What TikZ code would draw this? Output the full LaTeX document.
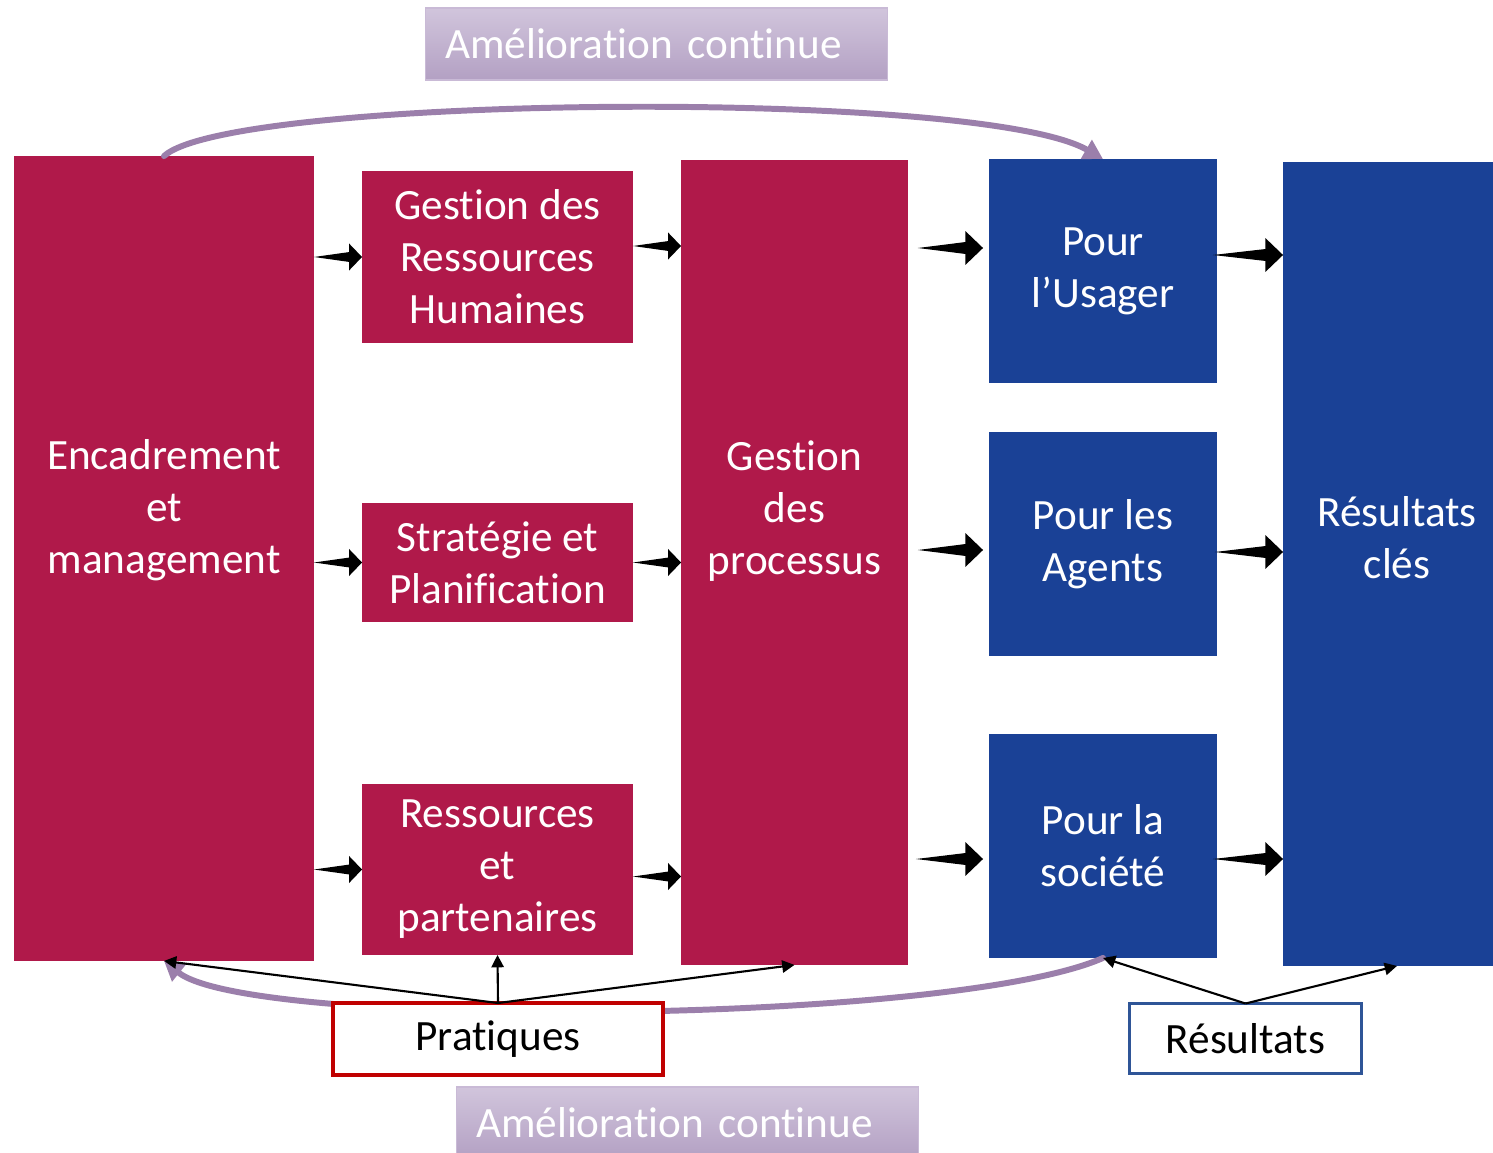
\documentclass[tikz,border=0pt]{standalone}
\usepackage{fontspec}
\setmainfont{Carlito}[Ligatures={NoCommon,NoRequired}, Contextuals=NoAlternate]
\usetikzlibrary{calc,arrows.meta}
\definecolor{crim}{HTML}{B0194A}
\definecolor{navy}{HTML}{1A4196}
\definecolor{arccol}{HTML}{9B7FAB}
\definecolor{bantop}{HTML}{D1C5DC}
\definecolor{banbot}{HTML}{B3A0C3}
\definecolor{banline}{HTML}{C9BAD6}
\definecolor{pred}{HTML}{C00000}
\definecolor{pblue}{HTML}{2F5597}
\begin{document}
\begin{tikzpicture}[x=0.02cm,y=-0.02cm,
  box/.style={rectangle, inner sep=0pt, outer sep=0pt},
  redbox/.style={box, fill=crim},
  bluebox/.style={box, fill=navy},
  lbl/.style={text=white, align=center, font=\fontsize{24.6}{29.6}\selectfont},
  banner/.style={box, minimum width=9.26cm, minimum height=1.44cm, inner xsep=0.4cm,
    text width=8.46cm, align=left, top color=bantop, bottom color=banbot,
    draw=banline, line width=0.6pt, text=white, font=\fontsize{24.6}{29.6}\selectfont},
  arcline/.style={draw=arccol, line width=3.4pt, line cap=round,
    -{Triangle[length=11pt,width=12pt]}},
  thinarrow/.style={line width=1.2pt, -{Triangle[length=7pt,width=7pt]}},
  fatS/.style={to path={
    -- ($(\tikztotarget)!7.4pt!(\tikztostart)!2.8pt!90:(\tikztotarget)$)
    -- ($(\tikztotarget)!7.4pt!(\tikztostart)!7.7pt!90:(\tikztotarget)$)
    -- (\tikztotarget)
    -- ($(\tikztotarget)!7.4pt!(\tikztostart)!7.7pt!-90:(\tikztotarget)$)
    -- ($(\tikztotarget)!7.4pt!(\tikztostart)!2.8pt!-90:(\tikztotarget)$)
    -- cycle}},
  fatL/.style={to path={
    -- ($(\tikztotarget)!10pt!(\tikztostart)!3.4pt!90:(\tikztotarget)$)
    -- ($(\tikztotarget)!10pt!(\tikztostart)!9.6pt!90:(\tikztotarget)$)
    -- (\tikztotarget)
    -- ($(\tikztotarget)!10pt!(\tikztostart)!9.6pt!-90:(\tikztotarget)$)
    -- ($(\tikztotarget)!10pt!(\tikztostart)!3.4pt!-90:(\tikztotarget)$)
    -- cycle}}
]
\clip (0,0) rectangle (1493,1152);

% banners
\node[banner] (ban1) at (656.5,44) {Amélioration continue};
\node[banner] (ban2) at (687.5,1123) {Amélioration continue};

% red boxes
\node[redbox, minimum width=6cm, minimum height=16.1cm] (enc) at (164,558.5) {};
\node[lbl] (enct) at (164,510) {Encadrement\\et\\management};
\node[redbox, lbl, minimum width=5.42cm, minimum height=3.44cm] (grh) at (497.5,257) {Gestion des\\Ressources\\Humaines};
\node[redbox, lbl, minimum width=5.42cm, minimum height=2.38cm] (st) at (497.5,562.5) {Stratégie et\\Planification};
\node[redbox, lbl, minimum width=5.42cm, minimum height=3.42cm] (rp) at (497.5,869.5) {Ressources\\et\\partenaires};
\node[redbox, minimum width=4.54cm, minimum height=16.1cm] (gp) at (794.5,562.5) {};
\node[lbl] (gpt) at (794.5,511) {Gestion\\des\\processus};

% blue boxes
\node[bluebox, lbl, minimum width=4.56cm, minimum height=4.48cm] (pu) at (1103,271) {Pour\\l’Usager};
\node[bluebox, lbl, minimum width=4.56cm, minimum height=4.48cm] (pa) at (1103,544) {Pour les\\Agents};
\node[bluebox, lbl, minimum width=4.56cm, minimum height=4.48cm] (ps) at (1103,846) {Pour la\\société};
\node[bluebox, minimum width=4.56cm, minimum height=16.08cm] (rk) at (1397,564) {};
\node[lbl] (rkt) at (1397,538) {Résultats\\clés};

% fat arrows
\coordinate (f1a) at (enc.east |- grh.west);
\coordinate (f2a) at (enc.east |- st.west);
\coordinate (f3a) at (enc.east |- rp.west);
\coordinate (f4a) at ($(grh.east)+(0,-11)$);
\coordinate (f4b) at (gp.west |- f4a);
\coordinate (f5a) at (st.east);
\coordinate (f5b) at (gp.west |- st.east);
\coordinate (f6a) at ($(rp.east)+(0,7)$);
\coordinate (f6b) at (gp.west |- f6a);
\coordinate (f7a) at ($(gp.east |- pu.west)+(10,-23)$);
\coordinate (f7b) at ($(pu.west)+(-6,-23)$);
\coordinate (f8a) at ($(gp.east |- pa.west)+(10,6)$);
\coordinate (f8b) at ($(pa.west)+(-6,6)$);
\coordinate (f9a) at ($(gp.east |- ps.west)+(8,13)$);
\coordinate (f9b) at ($(ps.west)+(-6,13)$);
\coordinate (f10a) at ($(pu.east)+(-4,-16)$);
\coordinate (f10b) at (rk.west |- f10a);
\coordinate (f11a) at ($(pa.east)+(-2,8)$);
\coordinate (f11b) at (rk.west |- f11a);
\coordinate (f12a) at ($(ps.east)+(-4,13)$);
\coordinate (f12b) at (rk.west |- f12a);

\fill (f1a) to[fatS] (grh.west);
\fill (f2a) to[fatS] (st.west);
\fill (f3a) to[fatS] (rp.west);
\fill (f4a) to[fatS] (f4b);
\fill (f5a) to[fatS] (f5b);
\fill (f6a) to[fatS] (f6b);
\fill (f7a) to[fatL] (f7b);
\fill (f8a) to[fatL] (f8b);
\fill (f9a) to[fatL] (f9b);
\fill (f10a) to[fatL] (f10b);
\fill (f11a) to[fatL] (f11b);
\fill (f12a) to[fatL] (f12b);

% improvement arcs
\draw[arcline] (enc.north) .. controls (230,95) and (980,88) .. (pu.north);
\draw[arcline] (ps.south) .. controls (950,1025) and (250,1030) .. (enc.south);

% practice / results boxes
\node[box, draw=pred, line width=2.3pt, fill=white, minimum width=6.6cm, minimum height=1.44cm,
  font=\fontsize{24.6}{29.6}\selectfont] (prat) at (498,1039) {Pratiques};
\draw[thinarrow] (prat.north) -- (enc.south);
\draw[thinarrow] (prat.north) -- (rp.south);
\draw[thinarrow] (prat.north) -- (gp.south);

\node[box, draw=pblue, line width=1.2pt, fill=white, minimum width=4.64cm, minimum height=1.4cm,
  font=\fontsize{24.6}{29.6}\selectfont] (res) at (1245.5,1038.5) {Résultats};
\draw[thinarrow] (res.north) -- (ps.south);
\draw[thinarrow] (res.north) -- (rk.south);
\end{tikzpicture}
\end{document}
